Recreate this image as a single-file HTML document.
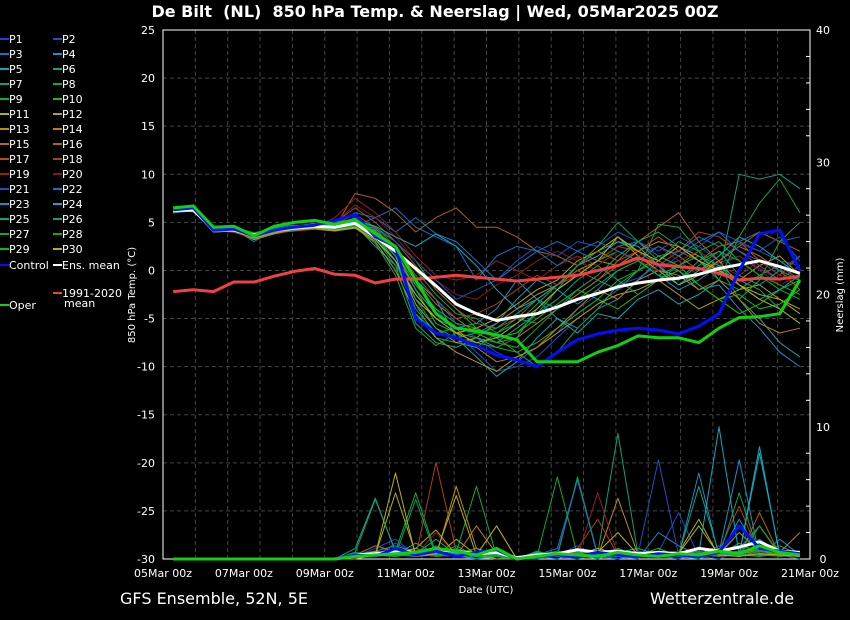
<!DOCTYPE html>
<html><head><meta charset="utf-8"><style>
body{margin:0;background:#000;width:850px;height:620px;overflow:hidden;font-family:"Liberation Sans","DejaVu Sans",sans-serif;color:#fff}
svg{display:block}
</style></head><body>
<svg id="chart" width="850" height="620" xmlns="http://www.w3.org/2000/svg" font-family="DejaVu Sans, Liberation Sans, sans-serif">
<rect x="0" y="0" width="850" height="620" fill="#000"/>
<text x="435" y="17" fill="#fff" font-size="16" font-weight="bold" text-anchor="middle" style="white-space:pre">De Bilt  (NL)  850 hPa Temp. &amp; Neerslag | Wed, 05Mar2025 00Z</text>
<g id="grid"></g>
<g id="axes"></g>
<g id="series"></g>
<g id="legend"></g>
<text transform="translate(135,295) rotate(-90)" fill="#fff" font-size="10" text-anchor="middle">850 hPa Temp. (°C)</text>
<text transform="translate(843,295) rotate(-90)" fill="#fff" font-size="10" text-anchor="middle">Neerslag (mm)</text>
<text x="486" y="593" fill="#fff" font-size="10" text-anchor="middle">Date (UTC)</text>
<text x="120" y="604" fill="#fff" font-size="16">GFS Ensemble, 52N, 5E</text>
<text x="650" y="604" fill="#fff" font-size="16">Wetterzentrale.de</text>
</svg>
<script>
const hours=[6,18,30,42,54,66,78,90,102,114,126,138,150,162,174,186,198,210,222,234,246,258,270,282,294,306,318,330,342,354,366,378];
const yTicks=[25,20,15,10,5,0,-5,-10,-15,-20,-25,-30];
const y2Ticks=[0,10,20,30,40];
const xTickLabels=["05Mar 00z","07Mar 00z","09Mar 00z","11Mar 00z","13Mar 00z","15Mar 00z","17Mar 00z","19Mar 00z","21Mar 00z"];
const xTickHours=[0,48,96,144,192,240,288,336,384];
const climMean=[-2.2,-2.0,-2.2,-1.2,-1.2,-0.6,-0.1,0.2,-0.4,-0.5,-1.3,-0.9,-0.9,-0.7,-0.5,-0.7,-0.9,-1.1,-0.9,-0.7,-0.5,0.0,0.5,1.3,0.6,0.4,0.2,-0.3,-1.0,-0.8,-0.9,-0.6];
const ensMean=[6.2,6.3,4.3,4.2,3.7,4.2,4.4,4.6,4.5,4.9,3.5,2.0,0.2,-1.6,-3.5,-4.5,-5.2,-4.8,-4.5,-3.8,-3.0,-2.4,-1.7,-1.3,-1.0,-0.8,-0.4,0.2,0.6,1.0,0.4,-0.3];
const control=[6.3,6.5,4.2,4.3,3.6,4.2,4.5,4.7,5.2,5.8,3.5,2.5,-5.0,-6.5,-7.0,-7.8,-8.8,-9.3,-10.0,-8.5,-7.2,-6.6,-6.2,-6.0,-6.2,-6.6,-5.8,-4.5,0.0,3.8,4.2,0.0];
const oper=[6.5,6.7,4.5,4.6,3.6,4.6,5.0,5.2,4.8,5.3,3.8,2.5,-1.0,-4.5,-6.0,-6.3,-6.7,-7.2,-9.5,-9.5,-9.5,-8.5,-7.8,-6.8,-7.0,-7.0,-7.5,-6.0,-4.9,-4.8,-4.5,-1.0];
const P1=[6.0,6.3,4.2,4.4,3.4,4.0,4.3,4.7,4.8,5.0,3.9,2.0,-0.5,-3.0,-5.5,-7.0,-8.5,-9.5,-8.0,-6.5,-4.0,-2.5,-1.5,-0.8,0.5,1.0,-0.5,0.8,1.5,0.2,-1.0,-0.5];
const P2=[6.1,6.2,4.4,4.2,3.3,4.1,4.5,4.4,4.7,5.5,3.5,1.0,-1.5,-4.0,-6.5,-8.5,-10.5,-10.0,-9.0,-7.0,-5.0,-3.5,-2.0,-1.0,0.0,1.5,2.5,1.0,2.8,2.0,1.0,0.5];
const P3=[6.3,6.5,4.0,4.3,3.0,4.2,4.3,4.6,4.9,6.0,5.5,4.0,5.5,3.8,3.0,1.0,-1.0,0.5,2.0,3.0,2.0,1.0,2.5,3.0,1.5,2.0,3.5,2.5,3.0,4.0,3.0,3.5];
const P4=[6.0,6.4,4.5,4.6,3.8,4.3,4.2,4.5,4.3,4.7,2.5,0.5,-2.5,-5.0,-6.0,-5.5,-4.0,-1.0,-3.0,-5.0,-6.0,-4.0,-3.0,-1.0,1.0,0.0,-2.0,-1.5,-4.0,-6.0,-8.5,-10.0];
const P5=[6.4,6.3,4.3,4.0,3.5,4.0,4.4,4.8,4.6,5.0,4.0,2.5,-1.0,-3.0,-7.0,-9.0,-11.0,-9.5,-7.0,-5.0,-6.5,-4.5,-5.0,-3.0,-2.0,-3.5,-2.5,-1.0,-3.0,-5.0,-7.5,-9.0];
const P6=[6.2,6.6,4.6,4.3,3.7,4.5,4.7,4.6,4.4,4.9,3.5,1.0,-4.0,-6.5,-7.0,-7.5,-8.0,-7.0,-4.0,-2.0,0.5,2.0,3.0,2.0,0.5,-1.0,1.0,-0.5,10.0,9.5,10.0,8.5];
const P7=[6.1,6.3,4.2,4.4,3.6,4.2,4.6,4.9,4.5,4.8,4.2,1.5,-3.5,-7.0,-7.5,-8.0,-6.5,-5.0,-5.5,-4.0,-2.5,-1.0,-2.0,0.0,1.0,2.5,1.0,-1.0,-2.0,-0.5,0.5,-1.0];
const P8=[6.3,6.5,4.4,4.1,3.4,4.0,4.3,4.5,4.2,4.6,2.8,-0.5,-6.0,-7.8,-6.5,-6.0,-7.0,-8.5,-10.0,-8.5,-6.0,-4.0,-1.5,0.0,4.8,4.5,2.0,0.5,-3.0,-1.0,3.0,5.0];
const P9=[6.2,6.4,4.3,4.5,3.9,4.4,4.5,4.7,4.6,5.1,4.5,3.0,1.0,-2.0,-4.0,-6.0,-7.0,-6.5,-4.5,-2.0,-0.5,1.0,2.0,1.0,-0.5,0.5,2.0,3.0,1.0,-0.5,-2.0,-3.0];
const P10=[6.0,6.2,4.1,4.3,3.5,3.9,4.2,4.4,4.6,4.8,3.8,2.0,-2.0,-5.5,-6.5,-7.0,-8.0,-8.5,-7.5,-6.0,-4.5,-3.0,-4.0,-2.5,-1.0,0.0,-1.5,-3.0,-4.5,-3.5,-2.0,-1.0];
const P11=[6.3,6.1,4.2,4.2,3.6,4.1,4.4,4.5,4.3,4.5,3.7,1.5,-3.0,-5.0,-6.5,-6.0,-5.0,-3.5,-2.0,-1.0,1.0,2.0,3.5,1.5,0.0,-1.5,-0.5,1.0,-1.5,-2.5,-3.0,-4.0];
const P12=[6.1,6.3,4.0,4.1,3.2,3.8,4.2,4.3,4.1,4.4,3.0,0.0,-4.5,-7.0,-8.5,-9.5,-10.5,-9.0,-8.0,-6.5,-5.0,-3.5,-2.5,-2.0,-1.0,-2.5,-4.0,-3.0,-2.0,-1.5,-3.0,-4.5];
const P13=[6.4,6.5,4.3,4.2,3.5,4.0,4.3,4.4,4.4,4.7,3.6,1.0,-3.5,-6.0,-7.5,-7.0,-5.5,-4.0,-2.5,-1.5,0.0,1.0,0.5,2.0,3.0,2.5,1.5,0.0,-1.0,0.5,1.5,-0.5];
const P14=[6.2,6.2,4.2,4.3,3.6,4.1,4.5,4.6,4.3,4.6,3.9,2.0,-2.0,-4.5,-6.0,-8.0,-9.5,-9.0,-8.0,-6.0,-4.0,-2.0,-3.0,-1.0,0.0,-0.5,-2.0,-1.0,-3.0,-5.5,-6.5,-6.0];
const P15=[6.0,6.4,4.4,4.4,3.7,4.3,4.6,4.7,4.5,4.9,4.1,2.5,-1.0,-3.5,-5.0,-6.5,-7.5,-7.0,-5.5,-4.0,-2.5,-1.0,0.5,1.5,2.5,1.5,0.0,1.0,2.5,1.5,0.0,-2.0];
const P16=[6.3,6.6,4.1,4.0,3.3,3.9,4.1,4.3,4.5,8.0,7.5,6.0,4.0,5.5,6.5,4.5,4.5,3.5,2.0,1.5,0.5,2.0,1.0,3.0,4.5,6.0,3.0,1.0,2.5,4.0,3.0,2.0];
const P17=[6.1,6.5,4.2,4.3,3.6,4.2,4.5,4.8,5.0,6.5,5.0,3.0,0.5,-2.0,-4.0,-5.5,-6.0,-5.0,-3.0,-1.5,0.0,-1.0,1.0,2.0,3.5,2.0,1.0,2.5,3.0,1.0,-0.5,1.5];
const P18=[6.2,6.3,4.3,4.4,3.5,4.0,4.4,4.6,4.8,5.8,4.5,2.5,-0.5,-3.0,-5.0,-4.5,-3.5,-2.0,-0.5,-1.5,-0.5,1.0,2.5,2.0,0.5,2.0,4.0,3.5,2.0,0.5,-1.0,0.5];
const P19=[6.3,6.4,4.2,4.1,3.4,4.0,4.3,4.5,5.5,7.5,6.0,4.0,1.5,-0.5,-1.0,-0.5,1.0,0.0,-1.0,0.5,1.5,0.5,2.0,1.0,0.0,1.0,2.0,0.5,-0.5,1.0,-0.5,-1.0];
const P20=[6.1,6.3,4.3,4.3,3.7,4.2,4.4,4.6,5.0,6.8,5.5,3.5,1.0,-1.0,-2.5,-3.0,-1.5,-0.5,1.0,2.0,1.0,0.0,0.5,1.5,2.5,1.0,-0.5,0.5,1.5,0.0,-1.5,-0.5];
const P21=[6.2,6.4,4.5,4.4,3.8,4.3,4.5,4.6,4.4,4.8,4.3,3.0,1.0,-1.0,-3.0,-2.0,-1.0,1.0,2.5,1.5,3.0,2.5,4.0,3.0,2.0,3.5,2.5,4.0,3.0,2.0,3.5,1.0];
const P22=[6.0,6.2,4.3,4.2,3.4,4.0,4.3,4.4,4.2,4.6,5.5,6.5,4.5,3.5,2.5,-1.0,1.5,2.5,2.0,0.5,2.0,3.0,2.0,1.0,2.5,1.5,3.0,4.0,2.0,1.0,0.0,1.5];
const P23=[6.4,6.5,4.4,4.3,3.6,4.2,4.6,4.8,4.7,5.0,4.0,1.5,-2.0,-4.5,-6.0,-6.5,-5.5,-3.0,-1.0,-2.0,-3.5,-2.0,0.0,1.0,-0.5,-2.0,-1.0,0.5,-1.5,-3.0,-2.0,-0.5];
const P24=[6.3,6.3,4.2,4.4,3.5,4.1,4.4,4.6,4.5,5.2,4.6,3.5,2.5,3.8,2.5,0.5,-2.0,-4.0,-3.0,-1.5,0.5,1.5,3.0,2.5,0.5,-1.5,0.0,1.5,3.5,2.5,1.0,-0.5];
const P25=[6.2,6.4,4.1,4.2,3.3,4.0,4.2,4.5,4.3,4.7,3.3,0.5,-5.5,-7.5,-8.0,-7.0,-7.5,-6.0,-4.5,-3.0,-1.0,0.5,-1.0,-2.5,-1.0,0.5,1.5,0.5,-1.0,-2.0,-4.0,-5.5];
const P26=[6.1,6.5,4.3,4.5,3.7,4.3,4.6,4.7,4.6,4.9,3.8,1.0,-3.0,-6.0,-7.0,-6.5,-6.0,-4.5,-3.0,-4.0,-2.0,-0.5,1.5,3.0,4.0,2.5,1.0,2.0,-0.5,-1.5,0.0,-1.0];
const P27=[6.3,6.6,4.4,4.3,3.6,4.2,4.5,4.6,4.4,4.8,4.4,2.0,0.0,-2.5,-4.5,-5.0,-6.5,-5.5,-3.5,-1.5,0.5,2.5,5.0,3.0,1.0,3.0,2.0,-1.0,3.5,7.0,9.5,6.0];
const P28=[6.0,6.3,4.2,4.2,3.5,4.0,4.4,4.5,4.3,4.6,3.5,1.0,-4.5,-6.5,-6.0,-6.5,-7.5,-8.0,-6.0,-4.0,-3.0,-1.5,0.0,1.0,-0.5,-1.0,0.5,2.0,1.0,-0.5,-1.5,-2.5];
const P29=[6.2,6.4,4.3,4.4,3.7,4.2,4.5,4.7,4.5,4.9,4.0,2.0,-1.5,-4.0,-5.5,-6.0,-7.0,-6.5,-5.0,-3.5,-2.0,-3.0,-1.0,0.0,1.5,0.5,-1.5,-3.0,-2.5,-4.0,-3.5,-2.0];
const P30=[6.1,6.2,4.0,4.1,3.4,3.9,4.3,4.4,4.2,4.5,3.2,1.0,-2.5,-5.0,-6.5,-7.5,-7.0,-5.5,-4.0,-2.0,-0.5,1.0,3.5,2.0,1.0,2.5,1.0,0.0,-1.5,-3.0,-4.0,-5.5];
const R1=[0,0,0,0,0,0,0,0,0,0.2,0.8,1.5,0.3,0.6,0.2,0,0.5,0,0,0.3,1.0,0.2,0,0.5,0.2,0,0.8,0.3,1.2,0.5,0.2,0.4];
const R2=[0,0,0,0,0,0,0,0,0,0.5,0.2,1.2,0.4,0.8,0.3,0.2,0,0,0.5,0.2,0,0.4,0,0.3,0.5,3.5,0.2,0,0.6,2.5,0.4,0.2];
const R3=[0,0,0,0,0,0,0,0,0,0,0.4,0.8,0.2,0.3,0.6,0,0.2,0,0.3,0.8,6.0,0.2,0,0.5,0.3,0,0.4,1.0,0.2,0.8,0.3,0];
const R4=[0,0,0,0,0,0,0,0,0,0.3,1.0,0.5,0.2,0.8,0.2,0.5,0,0,0.2,0,0.5,0.3,0.2,0,2.0,1.0,0.3,0.5,7.5,0.2,1.5,0.3];
const R5=[0,0,0,0,0,0,0,0,0,0.2,0.5,0.3,1.2,0.4,0.3,0,0.2,0,0.4,0.2,0.3,0,0.5,0.8,0.3,0.2,0,0.6,0.3,8.0,0.4,0.5];
const R6=[0,0,0,0,0,0,0,0,0,0.5,4.5,0.6,0.2,1.0,0.3,0.2,0,0.2,0,0.5,0.2,0.3,0.8,0.2,0.5,0.3,5.5,0.4,2.0,0.6,1.0,0.3];
const R7=[0,0,0,0,0,0,0,0,0,0.3,0.6,1.0,0.5,0.4,0.8,0.2,0,0,0.3,0.6,0.2,0.4,9.5,0.3,0.2,0.4,0.6,0.2,1.2,0.3,0.5,0.2];
const R8=[0,0,0,0,0,0,0,0,0,0.2,0.3,0.6,5.0,0.4,0.5,5.5,0.2,0,0.2,0.4,0.3,0.5,0.2,0.3,0.4,0.6,0.3,0.5,0.8,2.5,0.4,0.3];
const R9=[0,0,0,0,0,0,0,0,0,0.4,0.2,0.5,0.8,0.3,1.0,0.2,0,0,0.6,0.2,6.2,0.3,0.5,0.2,0.4,0.3,0.2,0.8,0.4,0.3,0.6,0.2];
const R10=[0,0,0,0,0,0,0,0,0,0.2,0.5,0.3,0.6,0.2,0.4,0.8,0.2,0,0.4,0.3,0.5,0.2,0.6,0.3,0.8,0.2,0.4,0.3,0.5,0.7,0.3,0.2];
const R11=[0,0,0,0,0,0,0,0,0,0,0.3,5.0,0.4,0.2,1.5,0.3,0,0,0.2,0.5,0.3,0.8,0.4,0.2,0.3,0.5,3.0,0.2,0.4,0.6,0.3,0.2];
const R12=[0,0,0,0,0,0,0,0,0,0.3,0.2,0.4,0.8,2.2,0.3,0.5,0.2,0,0.3,0.2,0.4,0.2,0.5,0.3,0.2,0.6,0.4,0.2,0.3,0.5,0.2,0.4];
const R13=[0,0,0,0,0,0,0,0,0,0.2,0.6,0.3,0.5,0.2,5.5,0.8,0.3,0,0.2,0.3,0.6,0.2,4.6,0.3,0.5,0.2,0.4,0.8,0.3,0.5,0.2,0.3];
const R14=[0,0,0,0,0,0,0,0,0,0.4,0.2,0.8,0.3,0.6,0.2,2.5,0.4,0,0.3,0.5,0.2,0.4,0.3,0.2,0.5,0.3,0.8,0.4,0.6,0.3,0.5,2.0];
const R15=[0,0,0,0,0,0,0,0,0,0.2,0.5,0.3,0.4,0.2,0.3,0.4,0.2,0,0.2,0.4,0.3,0.6,0.2,0.5,0.3,0.2,0.4,0.3,2.0,0.5,0.3,0.4];
const R16=[0,0,0,0,0,0,0,0,0,0.3,1.0,0.6,0.2,0.5,0.4,0.3,2.5,0,0.5,0.3,0.2,0.4,0.3,0.2,0.6,0.4,0.3,0.5,0.2,3.5,0.3,0.2];
const R17=[0,0,0,0,0,0,0,0,0,0.2,0.4,0.3,0.6,0.3,0.2,0.5,0.3,0,0.2,0.3,0.5,0.2,0.4,0.6,0.3,0.2,0.5,0.3,0.4,0.2,0.6,0.3];
const R18=[0,0,0,0,0,0,0,0,0,0.4,0.3,0.5,0.2,7.3,0.6,0.3,0.2,0,0.4,0.2,0.8,3.0,0.3,0.5,0.2,0.4,0.3,0.6,4.0,0.3,0.5,0.2];
const R19=[0,0,0,0,0,0,0,0,0,0.2,0.3,0.2,0.4,0.8,0.3,0.2,0.4,0,0.3,0.5,0.2,5.0,0.3,0.2,0.4,0.3,0.5,0.2,0.3,0.6,0.2,0.3];
const R20=[0,0,0,0,0,0,0,0,0,0.3,0.2,0.4,0.3,2.0,0.2,0.5,0.3,0,0.2,0.4,0.3,0.2,0.5,0.3,0.2,0.6,0.3,0.4,0.2,0.5,0.3,0.2];
const R21=[0,0,0,0,0,0,0,0,0,0.2,0.4,0.3,0.5,0.2,0.6,0.3,0.2,0,0.4,0.3,0.2,0.5,0.3,0.4,7.5,0.3,0.2,0.6,0.4,0.3,0.5,0.2];
const R22=[0,0,0,0,0,0,0,0,0,0.3,0.2,0.6,0.4,0.3,0.2,0.5,0.3,0,0.2,0.4,6.0,0.3,0.2,0.5,0.3,0.4,0.2,0.3,0.6,1.5,0.4,0.3];
const R23=[0,0,0,0,0,0,0,0,0,0.2,0.5,0.3,0.2,0.4,0.3,0.6,0.2,0,0.3,0.2,0.4,0.5,0.3,0.2,0.4,0.3,6.5,0.2,3.0,0.4,0.3,0.5];
const R24=[0,0,0,0,0,0,0,0,0,0.4,0.3,0.2,0.5,0.3,0.4,0.2,0.3,0,0.2,0.5,0.3,0.4,0.2,0.3,0.5,0.2,0.4,10.0,0.3,8.5,0.2,0.4];
const R25=[0,0,0,0,0,0,0,0,0,0.8,4.6,0.5,0.3,0.6,0.2,0.4,0.3,0,0.5,0.3,0.2,0.6,0.4,0.3,0.2,0.5,0.3,0.4,0.2,0.6,0.3,0.5];
const R26=[0,0,0,0,0,0,0,0,0,0.3,0.2,0.5,0.4,1.5,0.3,0.2,0.4,0,0.3,0.2,0.5,0.3,0.2,0.4,0.3,0.5,0.2,0.3,0.4,0.2,0.5,0.3];
const R27=[0,0,0,0,0,0,0,0,0,0.2,0.4,0.3,4.5,0.2,0.5,0.3,0.2,0,0.4,0.3,0.2,0.5,0.3,0.2,0.4,0.3,0.5,0.2,5.0,0.3,0.2,0.4];
const R28=[0,0,0,0,0,0,0,0,0,0.5,0.3,0.2,0.4,0.3,0.6,0.2,0.3,0,0.2,6.2,0.3,0.4,0.2,0.5,0.3,0.2,0.4,0.3,0.2,2.5,0.3,0.2];
const R29=[0,0,0,0,0,0,0,0,0,0.3,0.2,0.4,0.3,0.5,0.2,0.3,0.4,0,0.3,0.2,0.4,0.3,0.5,0.2,0.3,0.4,0.2,0.5,0.3,0.2,0.4,0.3];
const R30=[0,0,0,0,0,0,0,0,0,0.2,0.3,6.5,0.2,0.4,4.8,0.3,2.5,0,0.4,0.2,0.3,0.5,2.0,0.3,0.2,0.4,2.5,0.3,0.2,0.4,0.3,0.2];
const controlRain=[0,0,0,0,0,0,0,0,0,0.3,0.2,0.8,0.3,0.6,0.2,0.5,0.7,0,0.2,0.3,0.2,0.5,0.3,0.2,0.4,0.3,0.2,0.5,2.5,0.8,0.6,0.4];
const operRain=[0,0,0,0,0,0,0,0,0,0.2,0.3,0.4,0.5,0.8,0.6,0.3,0.8,0,0.2,0.4,0.3,0.2,0.5,0.3,0.2,0.4,0.3,0.6,0.4,1.0,0.5,0.3];
const meanRain=[0,0,0,0,0,0,0,0,0,0.3,0.4,0.6,0.5,0.7,0.6,0.4,0.5,0.1,0.3,0.4,0.7,0.5,0.6,0.4,0.5,0.4,0.8,0.6,0.9,1.3,0.6,0.5];
const pertTemps=[P1,P2,P3,P4,P5,P6,P7,P8,P9,P10,P11,P12,P13,P14,P15,P16,P17,P18,P19,P20,P21,P22,P23,P24,P25,P26,P27,P28,P29,P30];
const pertRain=[R1,R2,R3,R4,R5,R6,R7,R8,R9,R10,R11,R12,R13,R14,R15,R16,R17,R18,R19,R20,R21,R22,R23,R24,R25,R26,R27,R28,R29,R30];
const pertColors=["#2040d8","#1a50c8","#1a70c0","#1890c8","#14a8b0","#10a080","#10a070","#10a840","#10b020","#20b810","#b0b010","#b8a010","#b89010","#b88010","#b07010","#b06010","#b05010","#a84018","#902020","#801818","#1a50c0","#1a70c0","#1890c0","#10a8c0","#10a080","#10a070","#10a050","#10a830","#10b818","#b8b010"];

const NS="http://www.w3.org/2000/svg";
const X0=163,X1=810,Y0=30,Y1=559;
const xs=h=>X0+(h/384)*(X1-X0);
const ys=t=>Y1-(t+30)/55*(Y1-Y0);
const yr=mm=>Y1-mm/40*(Y1-Y0);
function mk(tag,attrs,parent){const e=document.createElementNS(NS,tag);for(const k in attrs)e.setAttribute(k,attrs[k]);parent.appendChild(e);return e;}
const grid=document.getElementById('grid'),axes=document.getElementById('axes'),ser=document.getElementById('series'),leg=document.getElementById('legend');
for(let i=1;i<20;i++){const x=X0+i*(X1-X0)/20;const l=mk('line',{x1:x,x2:x,y1:Y0,y2:Y1,stroke:'#444','stroke-dasharray':'4,3','stroke-width':1},grid);

}
yTicks.forEach(t=>{const y=ys(t);if(t!==25&&t!==-30){const l=mk('line',{x1:X0,x2:X1,y1:y,y2:y,stroke:'#444','stroke-dasharray':'4,3','stroke-width':1},grid);

}
const tx=mk('text',{x:155,y:y+4,fill:'#fff','font-size':11,'text-anchor':'end'},axes);tx.textContent=t;

});
const frame=mk('rect',{x:X0,y:Y0,width:X1-X0,height:Y1-Y0,fill:'none',stroke:'#fff','stroke-width':1},axes);


for(let m=0;m<=40;m+=2){const y=yr(m);const l=mk('line',{x1:X1,x2:X1-(m%10===0?0:4),y1:y,y2:y,stroke:'#fff'},axes);

}
y2Ticks.forEach(m=>{const tx=mk('text',{x:823,y:yr(m)+4,fill:'#fff','font-size':11,'text-anchor':'middle'},axes);tx.textContent=m;

});
xTickLabels.forEach((lab,i)=>{const tx=mk('text',{x:xs(xTickHours[i]),y:577,fill:'#fff','font-size':11,'text-anchor':'middle'},axes);tx.textContent=lab;

});
function line(vals,fn,color,w,name){const d=vals.map((v,i)=>(i?'L':'M')+xs(hours[i]).toFixed(1)+','+fn(v).toFixed(1)).join('');
const p=mk('path',{d:d,fill:'none',stroke:color,'stroke-width':w,'stroke-linejoin':'round'},ser);

}
pertRain.forEach((r,i)=>line(r,yr,pertColors[i],1,'precip-p'+(i+1)));
pertTemps.forEach((t,i)=>line(t,ys,pertColors[i],1,'temp-p'+(i+1)));
line(meanRain,yr,'#fff',3,'precip-ens-mean');
line(controlRain,yr,'#0010ff',3,'precip-control');
line(operRain,yr,'#10d010',3,'precip-oper');
line(climMean,ys,'#f04040',3,'temp-clim-mean');
line(ensMean,ys,'#ffffff',3,'temp-ens-mean');
line(control,ys,'#0010ff',3,'temp-control');
line(oper,ys,'#10d010',3,'temp-oper');
function legItem(x,y,color,label,name){const l=mk('line',{x1:x,x2:x+9,y1:y,y2:y,stroke:color,'stroke-width':2},leg);


const t=mk('text',{x:x+9,y:y+4,fill:'#fff','font-size':11},leg);t.textContent=label;

return t;}
for(let i=0;i<30;i++){const col=i%2,row=Math.floor(i/2);legItem(col?53:0,39+row*15,pertColors[i],'P'+(i+1),'legend-entry-p'+(i+1));}
legItem(0,265,'#0010ff','Control','legend-entry-control');
legItem(53,265,'#ffffff','Ens. mean','legend-entry-ens-mean');
legItem(53,293,'#f04040','1991-2020','legend-entry-clim-mean');
const mt=mk('text',{x:64,y:307,fill:'#fff','font-size':11},leg);mt.textContent='mean';


legItem(0,305,'#10d010','Oper','legend-entry-oper');
</script>
</body></html>
